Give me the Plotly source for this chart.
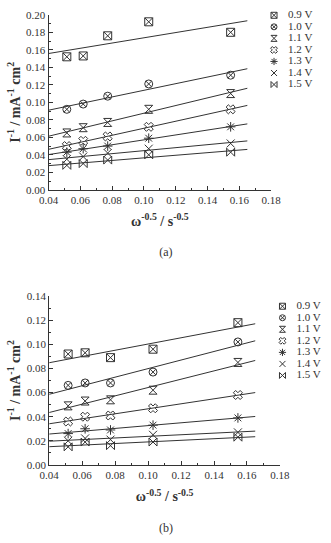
import numpy as np
import plotly.graph_objects as go

# ---------------- data ----------------
x_vals = [0.0515, 0.0618, 0.0772, 0.1030, 0.1545]
series_labels = ["0.9 V", "1.0 V", "1.1 V", "1.2 V", "1.3 V", "1.4 V", "1.5 V"]

a_09 = [0.152, 0.153, 0.176, 0.192, 0.180]
a_10 = [0.092, 0.098, 0.107, 0.121, 0.131]
a_11 = [0.065, 0.071, 0.077, 0.092, 0.110]
a_12 = [0.050, 0.056, 0.061, 0.072, 0.092]
a_13 = [0.043, 0.047, 0.050, 0.059, 0.072]
a_14 = [0.035, 0.038, 0.042, 0.047, 0.053]
a_15 = [0.028, 0.030, 0.034, 0.040, 0.043]

b_09 = [0.092, 0.093, 0.089, 0.096, 0.118]
b_10 = [0.066, 0.068, 0.068, 0.077, 0.102]
b_11 = [0.049, 0.053, 0.054, 0.062, 0.085]
b_12 = [0.036, 0.040, 0.041, 0.047, 0.058]
b_13 = [0.026, 0.030, 0.029, 0.033, 0.039]
b_14 = [0.020, 0.022, 0.021, 0.025, 0.027]
b_15 = [0.015, 0.019, 0.016, 0.019, 0.023]

fit_range = [0.04, 0.165]
x_ticks = [0.04, 0.06, 0.08, 0.10, 0.12, 0.14, 0.16, 0.18]
a_y_ticks = [0.00, 0.02, 0.04, 0.06, 0.08, 0.10, 0.12, 0.14, 0.16, 0.18, 0.20]
b_y_ticks = [0.00, 0.02, 0.04, 0.06, 0.08, 0.10, 0.12, 0.14]
captions = ["(a)", "(b)"]

a_series = [a_09, a_10, a_11, a_12, a_13, a_14, a_15]
b_series = [b_09, b_10, b_11, b_12, b_13, b_14, b_15]

# ---------------- style ----------------
W, H = 331, 543
INK = "#333333"
FONT = "Liberation Serif"
symbols = ["square-x-open", "circle-x-open", "hourglass-open", "x-open",
           "asterisk-open", "x-thin-open", "bowtie-open"]


def fx(p):
    return p / W


def fy(p):
    return 1 - p / H


fig = go.Figure()

panels = [
    dict(series=a_series, xa="x", ya="y", xname="xaxis", yname="yaxis",
         xdom=(41, 278), ydom=(9, 188), yr=(0, 0.20), yt=a_y_ticks,
         leg_x=281, leg_y0=9.5, cap=(166, 253), cap_text=captions[0]),
    dict(series=b_series, xa="x2", ya="y2", xname="xaxis2", yname="yaxis2",
         xdom=(41.7, 287.3), ydom=(296.7, 469.3), yr=(0, 0.14), yt=b_y_ticks,
         leg_x=290, leg_y0=307, cap=(166, 535), cap_text=captions[1]),
]

xarr = np.array(x_vals)
for p in panels:
    for i, ys in enumerate(p["series"]):
        fig.add_trace(go.Scatter(
            x=x_vals, y=ys, mode="markers", xaxis=p["xa"], yaxis=p["ya"],
            marker=dict(symbol=symbols[i], size=8, color=INK, line=dict(width=1, color=INK)),
            showlegend=False, hoverinfo="skip"))
        k, b = np.polyfit(xarr, np.array(ys), 1)
        xf = np.array(fit_range)
        fig.add_trace(go.Scatter(
            x=xf, y=k * xf + b, mode="lines", xaxis=p["xa"], yaxis=p["ya"],
            line=dict(color=INK, width=1), showlegend=False, hoverinfo="skip"))
    # legend (manual, compact row spacing) on a pixel-coordinate overlay axis
    leg_y = [p["leg_y0"] + i * 11.8 for i in range(len(series_labels))]
    for i, lab in enumerate(series_labels):
        fig.add_trace(go.Scatter(
            x=[p["leg_x"]], y=[leg_y[i]], mode="markers", xaxis="x3", yaxis="y3",
            marker=dict(symbol=symbols[i], size=6, color=INK, line=dict(width=1, color=INK)),
            showlegend=False, hoverinfo="skip"))
    fig.add_trace(go.Scatter(
        x=[p["leg_x"] + 15] * len(series_labels), y=leg_y, mode="text",
        text=series_labels, textposition="middle right", xaxis="x3", yaxis="y3",
        textfont=dict(family=FONT, size=11, color=INK), showlegend=False, hoverinfo="skip"))
    fig.add_trace(go.Scatter(
        x=[p["cap"][0]], y=[p["cap"][1]], mode="text", text=[p["cap_text"]],
        textposition="middle center", xaxis="x3", yaxis="y3",
        textfont=dict(family=FONT, size=12, color=INK), showlegend=False, hoverinfo="skip"))

axis_common = dict(showline=True, linecolor=INK, linewidth=1, ticks="inside", ticklen=4,
                   tickcolor=INK, tickwidth=1, showgrid=False, zeroline=False,
                   tickfont=dict(family=FONT, size=11, color=INK),
                   minor=dict(ticks="inside", ticklen=2, tickcolor=INK, dtick=0.01))

layout = dict(width=W, height=H, margin=dict(l=0, r=0, t=0, b=0),
              paper_bgcolor="white", plot_bgcolor="rgba(0,0,0,0)", showlegend=False)
for p in panels:
    layout[p["xname"]] = dict(
        axis_common, domain=[fx(p["xdom"][0]), fx(p["xdom"][1])],
        range=[0.04, 0.18], tickvals=x_ticks, tickformat=".2f", anchor=p["ya"],
        title=dict(text="<b>ω<sup>-0.5</sup> / s<sup>-0.5</sup></b>", standoff=11,
                   font=dict(family=FONT, size=14, color=INK)))
    layout[p["yname"]] = dict(
        axis_common, domain=[fy(p["ydom"][1]), fy(p["ydom"][0])],
        range=list(p["yr"]), tickvals=p["yt"], tickformat=".2f", anchor=p["xa"],
        title=dict(text="<b>I<sup>-1</sup> / mA<sup>-1</sup> cm<sup>2</sup></b>", standoff=2,
                   font=dict(family=FONT, size=14, color=INK)))
layout["xaxis3"] = dict(domain=[0, 1], range=[0, W], visible=False, anchor="y3")
layout["yaxis3"] = dict(domain=[0, 1], range=[H, 0], visible=False, anchor="x3")

fig.update_layout(**layout)
fig.write_html("out.html")
